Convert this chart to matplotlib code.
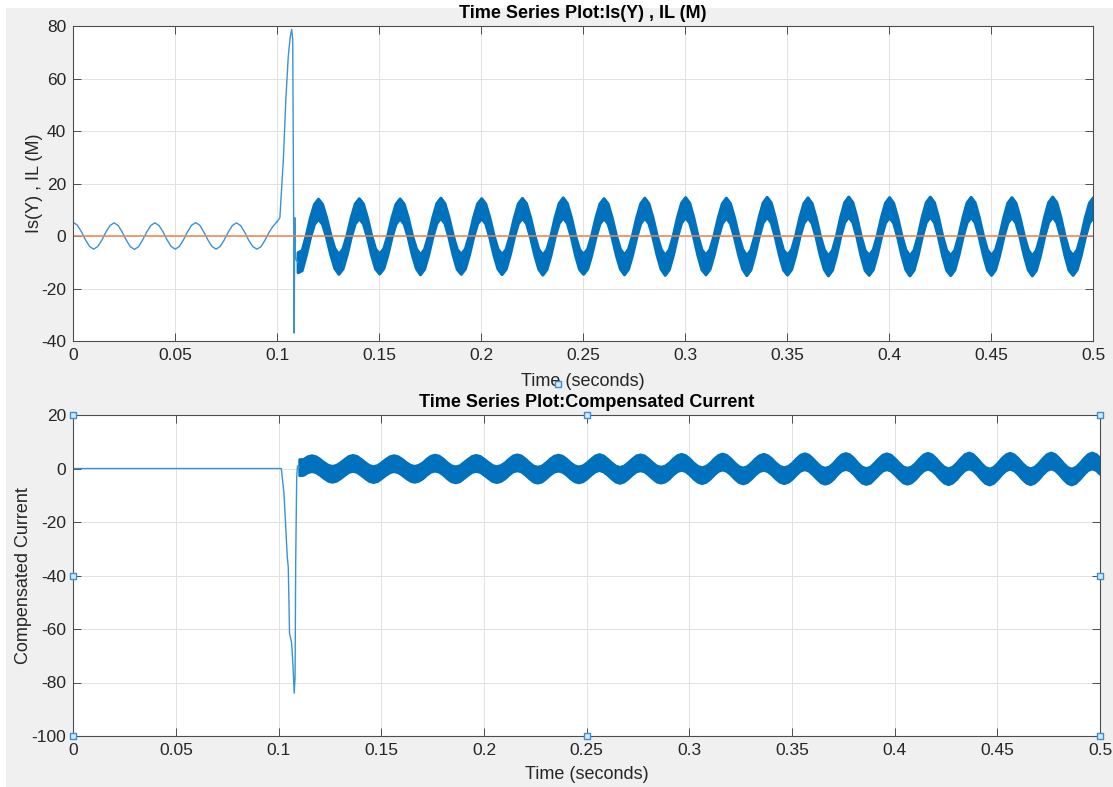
import numpy as np
import matplotlib
matplotlib.use("Agg")
import matplotlib.pyplot as plt
from matplotlib.patches import Rectangle

plt.rcParams['font.family'] = ['Liberation Sans', 'DejaVu Sans']
plt.rcParams['axes.unicode_minus'] = False

# ---- data ----
dt = 0.002

# top panel, Is(Y): clean 50 Hz wave before the fault (t = 0 .. 0.1, step dt)
is_pre = [
    5.2, 4.1, 1.6, -1.5, -4.0, -5.0, -4.0, -1.6, 1.5, 4.0,
    5.0, 4.0, 1.5, -1.6, -4.1, -5.1, -4.1, -1.5, 1.5, 4.0,
    5.0, 4.0, 1.6, -1.5, -4.0, -5.0, -4.0, -1.5, 1.6, 4.1,
    5.1, 4.1, 1.5, -1.5, -4.0, -5.0, -4.0, -1.5, 1.5, 4.0,
    5.0, 4.0, 1.5, -1.6, -4.0, -5.0, -4.1, -1.6, 1.4, 3.8,
    5.5,
]
# the fault transient
t_spike = [0.1013, 0.1018, 0.1030, 0.1042, 0.1054, 0.1064, 0.1071, 0.1076,
           0.1080, 0.1083, 0.1086, 0.1088, 0.1092]
is_spike = [7.0, 13.7, 29.0, 51.8, 68.3, 76.0, 78.7, 74.7,
            13.7, -37.0, 7.0, -6.0, -9.0]
# noisy steady state, centre of the band (t = 0.11 .. 0.5, step dt)
is_band = [
    -10.0, -9.2, -3.4, 3.2, 8.4, 10.4, 8.4, 3.2, -3.2, -8.4,
    -10.6, -8.6, -3.3, 3.3, 8.6, 10.6, 8.6, 3.3, -3.3, -8.6,
    -10.5, -8.5, -3.3, 3.3, 8.5, 10.5, 8.5, 3.3, -3.3, -8.5,
    -10.8, -8.7, -3.3, 3.3, 8.7, 10.8, 8.7, 3.3, -3.3, -8.7,
    -10.6, -8.6, -3.3, 3.3, 8.6, 10.6, 8.6, 3.3, -3.3, -8.6,
    -10.7, -8.7, -3.3, 3.3, 8.7, 10.7, 8.7, 3.3, -3.3, -8.7,
    -10.9, -8.8, -3.4, 3.4, 8.8, 10.9, 8.8, 3.4, -3.4, -8.8,
    -10.6, -8.6, -3.3, 3.3, 8.6, 10.6, 8.6, 3.3, -3.3, -8.6,
    -10.8, -8.7, -3.3, 3.3, 8.7, 10.8, 8.7, 3.3, -3.3, -8.7,
    -11.0, -8.9, -3.4, 3.4, 8.9, 11.0, 8.9, 3.4, -3.4, -8.9,
    -10.8, -8.7, -3.3, 3.3, 8.7, 10.8, 8.7, 3.3, -3.3, -8.7,
    -11.1, -9.0, -3.4, 3.4, 9.0, 11.1, 9.0, 3.4, -3.4, -9.0,
    -10.9, -8.8, -3.4, 3.4, 8.8, 10.9, 8.8, 3.4, -3.4, -8.8,
    -11.2, -9.1, -3.5, 3.5, 9.1, 11.2, 9.1, 3.5, -3.5, -9.1,
    -11.0, -8.9, -3.4, 3.4, 8.9, 11.0, 8.9, 3.4, -3.4, -8.9,
    -11.2, -9.1, -3.5, 3.5, 9.1, 11.2, 9.1, 3.5, -3.5, -9.1,
    -11.1, -9.0, -3.4, 3.4, 9.0, 11.1, 9.0, 3.4, -3.4, -9.0,
    -11.0, -8.9, -3.4, 3.4, 8.9, 11.0, 8.9, 3.4, -3.4, -8.9,
    -11.2, -9.1, -3.5, 3.5, 9.1, 11.2, 9.1, 3.5, -3.5, -9.1,
    -11.0, -8.9, -3.4, 3.4, 8.9, 11.0,
]
is_noise = 3.8          # half height of the noise band

# top panel, IL(M): flat at zero
t_il = [0.0, 0.5]
il = [0.0, 0.0]

# bottom panel, compensated current
t_comp_pre = [0.0, 0.1013]
comp_pre = [0.0, 0.0]
t_comp_spike = [0.1026, 0.1042, 0.1047, 0.1053, 0.1063, 0.1070, 0.1076,
                0.1080, 0.1083, 0.1088, 0.1092]
comp_spike = [-9.3, -33.0, -37.0, -61.6, -65.0, -74.0, -84.0,
              -77.8, -35.4, -3.0, 1.0]
comp_band = [
    0.5, 0.6, 1.6, 2.0, 1.6, 0.6, -0.6, -1.6, -2.0, -1.6,
    -0.6, 0.6, 1.7, 2.1, 1.7, 0.6, -0.6, -1.7, -2.1, -1.7,
    -0.6, 0.6, 1.6, 2.0, 1.6, 0.6, -0.6, -1.6, -2.0, -1.6,
    -0.7, 0.7, 1.8, 2.2, 1.8, 0.7, -0.7, -1.8, -2.2, -1.8,
    -0.6, 0.6, 1.7, 2.1, 1.7, 0.6, -0.6, -1.7, -2.1, -1.7,
    -0.7, 0.7, 1.9, 2.3, 1.9, 0.7, -0.7, -1.9, -2.3, -1.9,
    -0.7, 0.7, 1.8, 2.2, 1.8, 0.7, -0.7, -1.8, -2.2, -1.8,
    -0.7, 0.7, 1.9, 2.4, 1.9, 0.7, -0.7, -1.9, -2.4, -1.9,
    -0.7, 0.7, 1.9, 2.3, 1.9, 0.7, -0.7, -1.9, -2.3, -1.9,
    -0.8, 0.8, 2.0, 2.5, 2.0, 0.8, -0.8, -2.0, -2.5, -2.0,
    -0.8, 0.8, 2.1, 2.6, 2.1, 0.8, -0.8, -2.1, -2.6, -2.1,
    -0.8, 0.8, 2.0, 2.5, 2.0, 0.8, -0.8, -2.0, -2.5, -2.0,
    -0.8, 0.8, 2.2, 2.7, 2.2, 0.8, -0.8, -2.2, -2.7, -2.2,
    -0.9, 0.9, 2.3, 2.8, 2.3, 0.9, -0.9, -2.3, -2.8, -2.3,
    -0.8, 0.8, 2.2, 2.7, 2.2, 0.8, -0.8, -2.2, -2.7, -2.2,
    -0.9, 0.9, 2.3, 2.9, 2.3, 0.9, -0.9, -2.3, -2.9, -2.3,
    -0.9, 0.9, 2.4, 3.0, 2.4, 0.9, -0.9, -2.4, -3.0, -2.4,
    -0.9, 0.9, 2.3, 2.9, 2.3, 0.9, -0.9, -2.3, -2.9, -2.3,
    -0.9, 0.9, 2.4, 3.0, 2.4, 0.9, -0.9, -2.4, -3.0, -2.4,
    -0.9, 0.9, 2.4, 3.0, 2.4, 0.9,
]
comp_noise = 3.0

x_ticks = [0, 0.05, 0.1, 0.15, 0.2, 0.25, 0.3, 0.35, 0.4, 0.45, 0.5]
x_ticklabels = ['0', '0.05', '0.1', '0.15', '0.2', '0.25', '0.3', '0.35', '0.4', '0.45', '0.5']
top_yticks = [-40, -20, 0, 20, 40, 60, 80]
bot_yticks = [-100, -80, -60, -40, -20, 0, 20]

# sample times
t_pre = np.arange(len(is_pre)) * dt
t_band = 0.11 + np.arange(len(is_band)) * dt
is_band = np.array(is_band)
comp_band = np.array(comp_band)

# ---- styling ----
BLUE = '#0072BD'
THIN = '#3A92D6'
ORANGE = '#EE8450'
TXT = '#262626'

W, H = 1113, 787
fig = plt.figure(figsize=(W / 100, H / 100), dpi=100, facecolor='white')
fig.patches.append(Rectangle((6 / W, 0), 1 - 6 / W, 1 - 8 / H, transform=fig.transFigure,
                             facecolor='#F0F0F0', edgecolor='none', zorder=-10))

ax1 = fig.add_axes([73.3 / W, 1 - 341 / H, (1093 - 73.3) / W, 315 / H])
ax2 = fig.add_axes([73.3 / W, 1 - 736 / H, (1100 - 73.3) / W, 321 / H])


def style(ax, yticks):
    ax.set_xlim(0, 0.5)
    ax.set_ylim(yticks[0], yticks[-1])
    ax.set_xticks(x_ticks)
    ax.set_xticklabels(x_ticklabels)
    ax.set_yticks(yticks)
    ax.grid(True, color='#E2E2E2', lw=0.7)
    ax.set_axisbelow(True)
    ax.tick_params(direction='in', top=True, right=True, length=6, width=0.7,
                   colors='#4D4D4D', labelcolor=TXT, labelsize=12.5, pad=5)
    for s in ax.spines.values():
        s.set_color('#4D4D4D')
        s.set_linewidth(0.8)


# top panel
ax1.fill_between(t_band, is_band - is_noise, is_band + is_noise, color=BLUE, lw=2.2, edgecolor=BLUE)
ax1.plot(t_pre, is_pre, color=THIN, lw=1.0)
ax1.plot(np.r_[t_pre[-1], t_spike, t_band[0]], np.r_[is_pre[-1], is_spike, is_band[0]], color=THIN, lw=1.0)
ax1.plot(t_il, il, color=ORANGE, lw=1.1)
style(ax1, top_yticks)
ax1.set_title('Time Series Plot:Is(Y) , IL (M)', fontsize=13, fontweight='bold', color='black', pad=6)
ax1.set_xlabel('Time (seconds)', fontsize=13, color=TXT, labelpad=7)
ax1.set_ylabel('Is(Y) , IL (M)', fontsize=13, color=TXT, labelpad=-1.5)

# bottom panel
ax2.fill_between(t_band, comp_band - comp_noise, comp_band + comp_noise, color=BLUE, lw=2.0, edgecolor=BLUE)
ax2.plot(np.r_[t_comp_pre, t_comp_spike, t_band[0]], np.r_[comp_pre, comp_spike, comp_band[0]],
         color=THIN, lw=1.0)
style(ax2, bot_yticks)
ax2.set_title('Time Series Plot:Compensated Current', fontsize=13, fontweight='bold', color='black', pad=6)
ax2.set_xlabel('Time (seconds)', fontsize=13, color=TXT, labelpad=6)
ax2.set_ylabel('Compensated Current', fontsize=13, color=TXT, labelpad=0)

# selection handles of the bottom axes (MATLAB edit mode)
hx = [0, 0.5, 1, 0, 1, 0, 0.5, 1]
hy = [1, 1, 1, 0.5, 0.5, 0, 0, 0]
ax2.scatter(hx, hy, transform=ax2.transAxes, marker='s', s=22, facecolor='#D6EAF8',
            edgecolor='#3A8FD6', linewidth=1.0, clip_on=False, zorder=10)
fig.add_artist(plt.Line2D([558 / W], [1 - 384 / H], marker='s', markersize=4.5,
                          markerfacecolor='#D6EAF8', markeredgecolor='#3A8FD6', transform=fig.transFigure))

fig.savefig('out.png', dpi=100, facecolor=fig.get_facecolor())
